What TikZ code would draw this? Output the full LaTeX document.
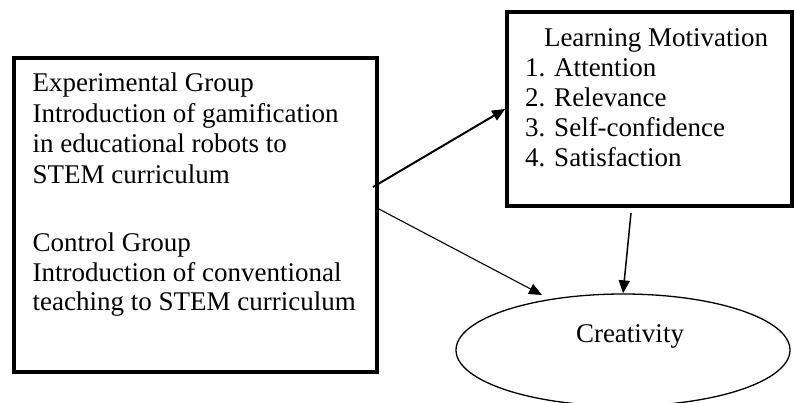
\documentclass[tikz,border=0pt]{standalone}
\usepackage{fontspec}
\setmainfont{Liberation Serif}
\usetikzlibrary{shapes.geometric,arrows.meta}
\begin{document}
\begin{tikzpicture}[x=1pt,y=-1pt,
  box/.style={draw, rectangle, line width=3.6pt, inner sep=0pt},
  txt/.style={anchor=base west, inner sep=0pt, outer sep=0pt, font=\fontsize{27}{30}\selectfont},
  tipped/.style={-{Triangle[length=13pt,width=11pt]}}]
\useasboundingbox (0,0) rectangle (794,402);
\clip (0,0) rectangle (794,402);
% boxes
\node[box, minimum width=362.7pt, minimum height=314.3pt] (grp) at (195.35,214.85) {};
\node[box, minimum width=285pt, minimum height=194pt] (lm) at (649.5,109) {};
\node[draw, ellipse, line width=1.3pt, inner sep=0pt, minimum width=334pt, minimum height=112pt] (cr) at (623,350) {};
% left box text
\node[txt] (e1) at (32.7,91.7) {Experimental Group};
\node[txt] (e2) at (32.7,122) {Introduction of gamification};
\node[txt] (e3) at (32.7,152.5) {in educational robots to};
\node[txt] (e4) at (32.7,183) {STEM curriculum};
\node[txt] (c1) at (32.7,251.7) {Control Group};
\node[txt] (c2) at (32.7,281.3) {Introduction of conventional};
\node[txt] (c3) at (32.7,310.5) {teaching to STEM curriculum};
% right box text
\node[txt] (m0) at (544,46) {Learning Motivation};
\node[txt] (m1) at (525,76.7) {1. Attention};
\node[txt] (m2) at (525,106.7) {2. Relevance};
\node[txt] (m3) at (525,136.7) {3. Self-confidence};
\node[txt] (m4) at (525,166.7) {4. Satisfaction};
% ellipse text
\node[txt] (ct) at (576,342) {Creativity};
% connectors
\coordinate (s1) at (373,187);
\coordinate (s2) at (377,208);
\coordinate (t2) at (542,295);
\coordinate (s3) at (631,213);
\draw[tipped, line width=2pt] (s1) -- (lm.west);
\draw[tipped, line width=1.1pt] (s2) -- (t2);
\draw[tipped, line width=1.5pt] (s3) -- (cr.north);
\end{tikzpicture}
\end{document}
